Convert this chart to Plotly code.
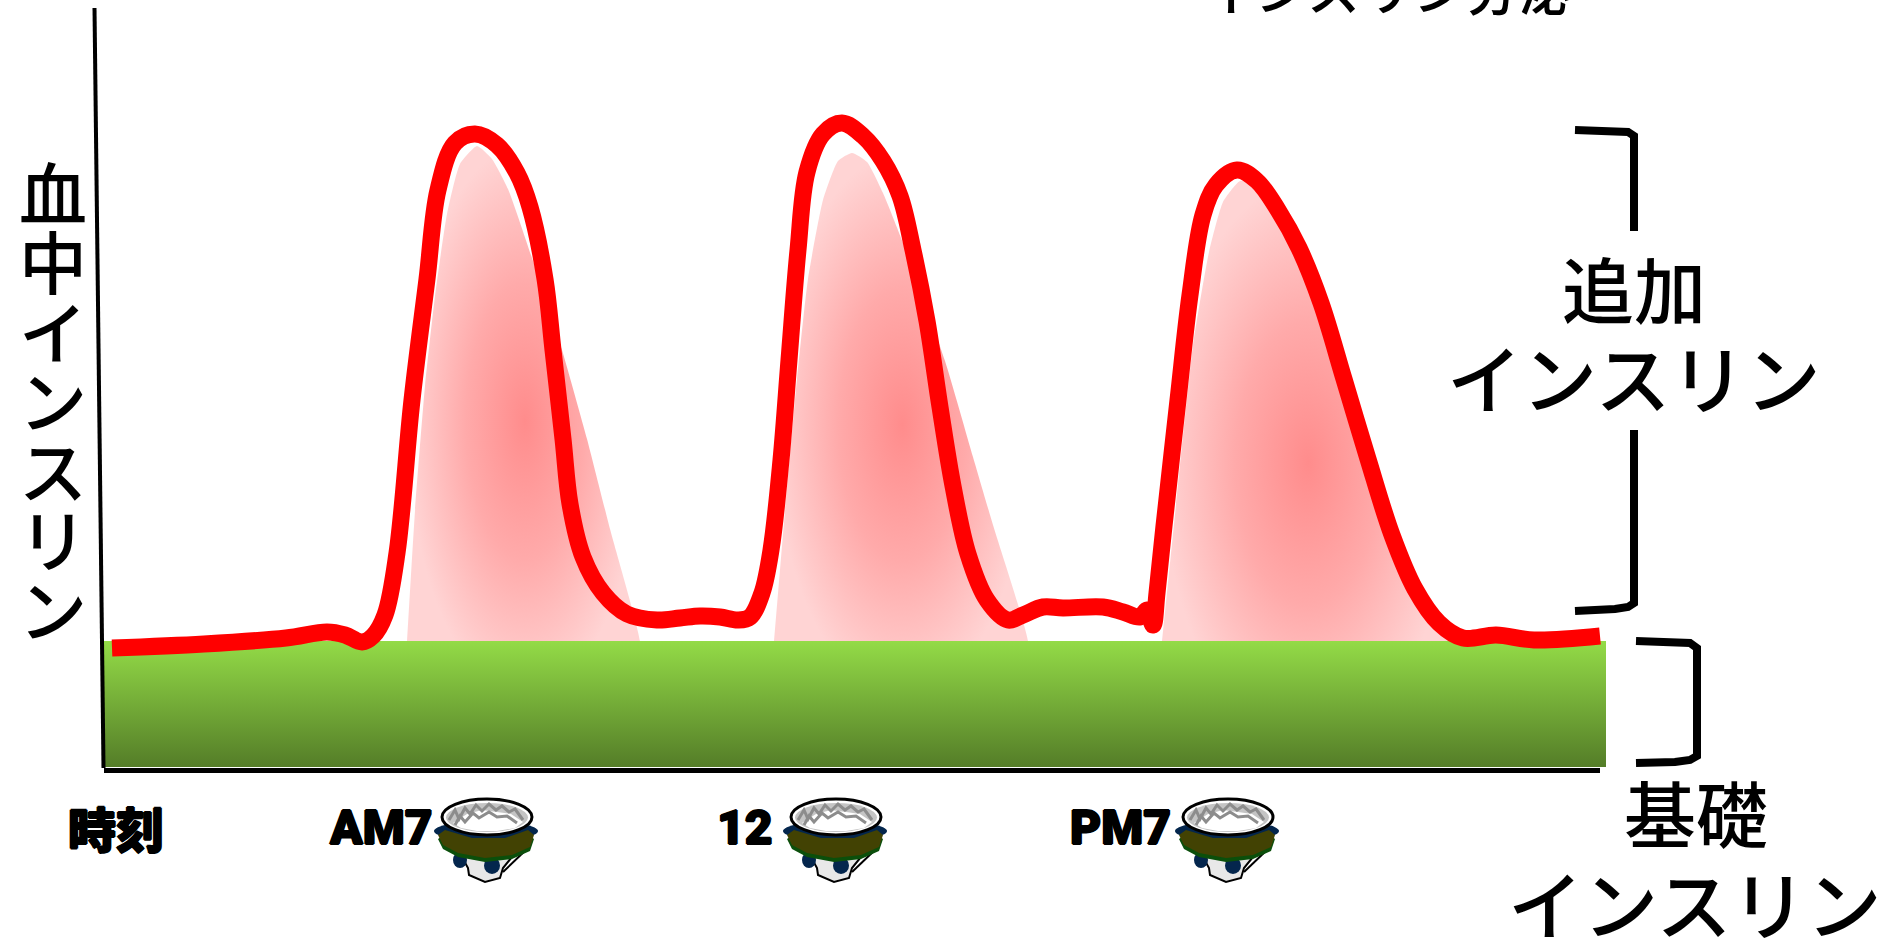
# Insulin secretion diagram: basal block, meal peaks, blood insulin curve
import plotly.graph_objects as go

JP_FONT = "Noto Sans CJK JP"
HEAVY_FONT = "Roboto"

# Blood insulin curve (pixel scale of the 1893x939 image)
CURVE_X = [112, 204, 286, 327, 345, 362, 373, 385, 397, 412, 427, 438, 455, 475, 497, 517, 530,
           545, 553, 563, 570, 583, 603, 627, 657, 680, 700, 720, 738, 750, 762, 771, 781, 789, 798,
           807, 823, 842, 863, 883, 900, 913, 927, 940, 953, 968, 987, 1008, 1023, 1043, 1063, 1103,
           1123, 1140, 1147, 1153, 1157, 1164, 1178, 1190, 1203, 1216, 1237, 1257, 1278, 1299, 1321,
           1344, 1368, 1392, 1415, 1439, 1463, 1496, 1534, 1600]
CURVE_Y = [648, 644, 638, 632, 635, 642, 636, 615, 553, 400, 279, 190, 143, 134, 145, 173, 207,
           279, 350, 439, 504, 557, 593, 614, 620, 618, 616, 617, 620, 617, 593, 550, 460, 360, 250,
           172, 134, 123, 136, 161, 196, 250, 321, 407, 486, 554, 600, 620, 615, 607, 608, 607,
           612, 617, 610, 625, 593, 526, 400, 295, 215, 185, 170, 181, 210, 248, 303,
           379, 459, 535, 589, 623, 638, 635, 640, 636]

# Additional insulin peaks (the lower points sit behind the green block)
PEAK1_X = [407, 415, 425, 435, 447, 460, 477, 492, 508, 533, 562, 587, 610, 640, 640, 407]
PEAK1_Y = [641, 511, 386, 296, 214, 164, 146, 159, 189, 261, 350, 439, 529, 641, 690, 690]
PEAK2_X = [774, 785, 797, 808, 823, 838, 852, 867, 883, 903, 945, 973, 993, 1028, 1028, 774]
PEAK2_Y = [641, 511, 379, 279, 200, 161, 153, 162, 193, 243, 361, 457, 525, 641, 690, 690]
PEAK3_X = [1162, 1176, 1193, 1209, 1223, 1240, 1259, 1292, 1321, 1349, 1377, 1401, 1427, 1449, 1449, 1162]
PEAK3_Y = [641, 505, 345, 252, 202, 181, 185, 240, 311, 404, 497, 564, 610, 641, 737, 737]

# Basal insulin block
BASAL_X = [103, 1606, 1606, 103, 103]
BASAL_Y = [641, 641, 767, 767, 641]

# Axes and brackets
AXIS_Y_X = [94.5, 103.5]
AXIS_Y_Y = [8, 768]
AXIS_X_X = [104, 1600]
AXIS_X_Y = [770.5, 770.5]
BRACKET_TOP_X = [1575, 1615, 1628, 1634, 1634]
BRACKET_TOP_Y = [130, 130, 132, 136, 231]
BRACKET_MID_X = [1634, 1634, 1628, 1615, 1575]
BRACKET_MID_Y = [430, 603, 607, 609, 611]
BRACKET_BASE_X = [1636, 1675, 1690, 1697, 1697, 1690, 1675, 1636]
BRACKET_BASE_Y = [641, 641, 643, 648, 756, 760, 762, 763]

# Labels
Y_LABEL = "血中インスリン"
TIME_LABELS = ["時刻", "AM7", "12", "PM7"]
BOWL_X = [487, 836, 1228]
BOWL_Y = 817

# Bowl outline parts, offsets from the rim centre
FOOT_X = [-25, 25, 16, 13, -2, -18, -19]
FOOT_Y = [40, 40, 51, 61, 65, 58, 51]
BAND_X = [-49, -42, -15, 18, 41, 47, 43, 25, -2, -29, -44]
BAND_Y = [18, 13, 21, 21, 13, 18, 30, 38, 41, 36, 28]
RICE_X = [-34, -20, -5, 10, 24, 36, 28, 10, -10, -26]
RICE_Y = [6, -3, -7, -5, -3, 5, 11, 14, 14, 11]
SQUIGGLE1_X = [-38, -32, -28, -22, -17, -11, -5, 2, 9, 15, 22, 28, 36]
SQUIGGLE1_Y = [3, -7, 2, -9, -3, -12, -6, -13, -7, -11, -5, -8, 3]
SQUIGGLE2_X = [-32, -27, -22, -14, -8, 2, 10, 20, 30]
SQUIGGLE2_Y = [8, -1, 5, -4, 1, -5, 0, -1, 6]


def path_from(xs, ys, cx=0, cy=0, closed=True):
    pts = [f"{x + cx},{y + cy}" for x, y in zip(xs, ys)]
    return "M" + " L".join(pts) + (" Z" if closed else "")


def add_bowl(fig, cx, cy):
    def ell(x0, y0, x1, y1, fill, line="rgba(0,0,0,0)", width=0):
        fig.add_shape(type="circle", x0=cx + x0, y0=cy + y0, x1=cx + x1, y1=cy + y1,
                      fillcolor=fill, line=dict(color=line, width=width), layer="above")

    def poly(xs, ys, fill, line="rgba(0,0,0,0)", width=0, dy=0):
        fig.add_shape(type="path", path=path_from(xs, ys, cx, cy + dy), fillcolor=fill,
                      line=dict(color=line, width=width), layer="above")

    def stroke(xs, ys, color, width):
        fig.add_shape(type="path", path=path_from(xs, ys, cx, cy, closed=False),
                      line=dict(color=color, width=width), layer="above")

    poly(FOOT_X, FOOT_Y, "#e8e8e8", "black", 2)
    stroke([41, 16], [31, 55], "black", 2)
    ell(-53, 4, 51, 24, "#04264d")
    ell(-34, 35, -20, 51, "#04264d")
    ell(-3, 40, 13, 57, "#04264d")
    poly(BAND_X, BAND_Y, "#0b4f0b", dy=4)
    poly(BAND_X, BAND_Y, "#424203")
    ell(-45, -18, 45, 18, "white", "black", 3)
    ell(-41, -14, 41, 15, "#c4c4c4")
    poly(RICE_X, RICE_Y, "white")
    stroke(SQUIGGLE1_X, SQUIGGLE1_Y, "#8c8c8c", 3)
    stroke(SQUIGGLE2_X, SQUIGGLE2_Y, "#8c8c8c", 3)


fig = go.Figure()

# Pink peaks with a radial fade
PEAK_SCALE = [[0, "rgb(255,140,140)"], [0.5, "rgb(255,170,170)"], [1, "rgb(255,212,212)"]]
for px, py in [(PEAK1_X, PEAK1_Y), (PEAK2_X, PEAK2_Y), (PEAK3_X, PEAK3_Y)]:
    fig.add_trace(go.Scatter(
        x=px, y=py, mode="lines", fill="toself", line=dict(width=0, shape="spline", smoothing=0.5),
        fillgradient=dict(type="radial", colorscale=PEAK_SCALE),
        hoverinfo="skip",
    ))

# Green basal block, light at the top and dark at the bottom
fig.add_trace(go.Scatter(
    x=BASAL_X, y=BASAL_Y, mode="lines", fill="toself", line=dict(width=0),
    fillgradient=dict(type="vertical", colorscale=[[0, "rgb(84,125,40)"], [1, "rgb(147,219,71)"]]),
    hoverinfo="skip",
))

# Axes
fig.add_trace(go.Scatter(x=AXIS_Y_X, y=AXIS_Y_Y, mode="lines", line=dict(color="black", width=4), hoverinfo="skip"))
fig.add_trace(go.Scatter(x=AXIS_X_X, y=AXIS_X_Y, mode="lines", line=dict(color="black", width=5), hoverinfo="skip"))

# Brackets
for bx, by in [(BRACKET_TOP_X, BRACKET_TOP_Y), (BRACKET_MID_X, BRACKET_MID_Y), (BRACKET_BASE_X, BRACKET_BASE_Y)]:
    fig.add_trace(go.Scatter(x=bx, y=by, mode="lines", line=dict(color="black", width=8), hoverinfo="skip"))

# Insulin curve on top
fig.add_trace(go.Scatter(
    x=CURVE_X, y=CURVE_Y, mode="lines",
    line=dict(color="#ff0000", width=17, shape="spline", smoothing=1.0),
    hoverinfo="skip",
))

for bx in BOWL_X:
    add_bowl(fig, bx, BOWL_Y)


def label(text, x, y, size, family=JP_FONT, weight=500, shadow=None, yref="y"):
    fig.add_annotation(text=text, x=x, y=y, xref="x", yref=yref, yanchor="middle", showarrow=False,
                       font=dict(family=family, size=size, color="black", weight=weight, shadow=shadow))


for i, ch in enumerate(Y_LABEL):
    label(ch, 53, 190 + 69.5 * i, 68)

label("追加", 1634, 286, 72)
label("インスリン", 1634, 375, 75)
label("基礎", 1696, 810, 72)
label("インスリン", 1695, 901, 75)
label("インスリン分泌", 1387, 1 + 12 / 939, 53, yref="paper")

THICK = "1px 0 0 black, -1px 0 0 black, 0 1px 0 black, 0 -1px 0 black"
label(TIME_LABELS[0], 116, 827, 48, weight=900, shadow=THICK)
label(TIME_LABELS[1], 381, 827, 48, family=HEAVY_FONT, weight=900, shadow=THICK)
label(TIME_LABELS[2], 745, 827, 48, family=HEAVY_FONT, weight=900, shadow=THICK)
label(TIME_LABELS[3], 1120, 827, 48, family=HEAVY_FONT, weight=900, shadow=THICK)

fig.update_xaxes(range=[0, 1893], visible=False)
fig.update_yaxes(range=[939, 0], visible=False)
fig.update_layout(
    width=1893, height=939, margin=dict(l=0, r=0, t=0, b=0),
    plot_bgcolor="white", paper_bgcolor="white", showlegend=False,
)

fig.write_html("out.html", config=dict(displayModeBar=False), post_script="document.body.style.margin='0';")
